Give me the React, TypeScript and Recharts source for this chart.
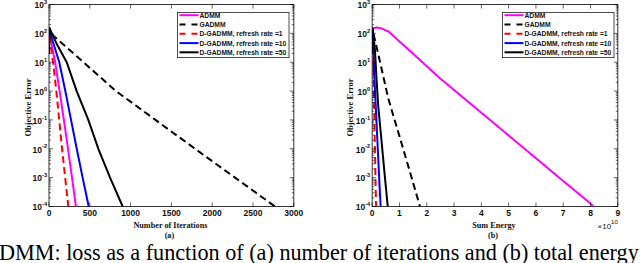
import React from 'react';
import { LineChart, Line, XAxis, YAxis, Legend, ReferenceArea } from 'recharts';

// ---------- tick labels ----------
const iterTicks = [0, 500, 1000, 1500, 2000, 2500, 3000];
const energyTicks = [0, 1, 2, 3, 4, 5, 6, 7, 8, 9];
const decadeExps = [-4, -3, -2, -1, 0, 1, 2, 3];
const minorMultipliers = [2, 3, 4, 5, 6, 7, 8, 9];

// ---------- series ----------
const seriesNames = [
  'ADMM',
  'GADMM',
  'D-GADMM, refresh rate =1',
  'D-GADMM, refresh rate =10',
  'D-GADMM, refresh rate =50',
];

// (a) objective error vs number of iterations
const admmIter = [0, 1, 20, 75, 130, 182, 233, 282, 330];
const admmIterErr = [20, 150, 60, 10, 1, 0.1, 0.01, 0.001, 0.0001];
const gadmmIter = [0, 1, 50, 200, 450, 820, 1305, 1790, 2280, 2770];
const gadmmIterErr = [20, 160, 85, 36, 8.5, 1, 0.1, 0.01, 0.001, 0.0001];
const rr1Iter = [0, 1, 15, 50, 90, 125, 160, 198, 237];
const rr1IterErr = [20, 150, 50, 10, 1, 0.1, 0.01, 0.001, 0.0001];
const rr10Iter = [0, 1, 40, 126, 200, 270, 340, 412, 487];
const rr10IterErr = [20, 160, 60, 10, 1, 0.1, 0.01, 0.001, 0.0001];
const rr50Iter = [0, 1, 100, 217, 339, 482, 605, 748, 903];
const rr50IterErr = [20, 160, 40, 10, 1, 0.1, 0.01, 0.001, 0.0001];

// (b) objective error vs sum energy (x 10^10)
const admmEnergy = [0.066, 0.15, 0.3, 0.6, 1.0, 1.5, 2.0, 2.48, 3, 4, 5, 6, 7, 8, 8.1];
const admmEnergyErr = [150, 160, 155, 115, 52, 19.6, 7.3, 2.8, 1.09, 0.177, 0.029, 0.0047, 0.00077, 0.000126, 0.0001];
const gadmmEnergy = [0, 0.005, 0.03, 0.13, 0.29, 0.59, 1.0, 1.4, 1.75];
const gadmmEnergyErr = [20, 160, 110, 45, 10, 0.55, 0.027, 0.0014, 0.0001];
const rr1Energy = [0, 0.005, 0.03, 0.05, 0.07, 0.09, 0.11, 0.13, 0.145];
const rr1EnergyErr = [20, 150, 30, 3, 0.3, 0.03, 0.003, 0.0003, 0.0001];
const rr10Energy = [0, 0.005, 0.04, 0.08, 0.13, 0.18, 0.22, 0.27, 0.31];
const rr10EnergyErr = [20, 160, 35, 3, 0.3, 0.03, 0.005, 0.0005, 0.0001];
const rr50Energy = [0, 0.005, 0.05, 0.1, 0.16, 0.22, 0.33, 0.45, 0.57];
const rr50EnergyErr = [20, 160, 80, 27, 2.5, 0.31, 0.025, 0.0015, 0.0001];

// ---------- styles ----------
const colors = ['#ff00ff', '#000000', '#ff0000', '#0000ff', '#000000'];
const dashes = [undefined, '7 4', '7 4', undefined, undefined];
const legendDashes = [undefined, '6 6', '6 6', undefined, undefined];

const SANS = '"Liberation Sans", Arial, Helvetica, sans-serif';
const SERIF = '"Liberation Serif", "Times New Roman", serif';

const yTicks: number[] = [];
decadeExps.forEach((e) => {
  yTicks.push(Math.pow(10, e));
  if (e < 3) minorMultipliers.forEach((m) => yTicks.push(m * Math.pow(10, e)));
});

const toPts = (xs: number[], ys: number[]) => xs.map((x, i) => ({ x, y: ys[i] }));

type Geom = { L: number; R: number; T: number; B: number };

const YTick = (props: any) => {
  const { y, payload, g } = props;
  const v = payload.value as number;
  const e = Math.log10(v);
  const major = Math.abs(e - Math.round(e)) < 1e-6;
  const len = major ? 4 : 2;
  return (
    <g>
      <line x1={g.L} x2={g.L + len} y1={y} y2={y} stroke="#000" strokeWidth={0.6} />
      <line x1={g.R - len} x2={g.R} y1={y} y2={y} stroke="#000" strokeWidth={0.6} />
      {major && (
        <text x={g.L - 2} y={y + 3.8} textAnchor="end" fontFamily={SANS} fontSize={8.5} fontWeight="bold" fill="#111">
          <tspan>10</tspan>
          <tspan dy={-4.2} fontSize={5.6}>{String(Math.round(e))}</tspan>
        </text>
      )}
    </g>
  );
};

const XTick = (props: any) => {
  const { x, payload, g } = props;
  return (
    <g>
      <line x1={x} x2={x} y1={g.B} y2={g.B - 4} stroke="#000" strokeWidth={0.6} />
      <line x1={x} x2={x} y1={g.T} y2={g.T + 4} stroke="#000" strokeWidth={0.6} />
      <text x={x} y={g.B + 9.5} textAnchor="middle" fontFamily={SANS} fontSize={8.5} fontWeight="bold" fill="#111">
        {String(payload.value)}
      </text>
    </g>
  );
};

const LegendBox = ({ w }: { w: number }) => {
  const rows = [3.2, 12.5, 21.8, 31.1, 40.3];
  return (
    <svg width={w} height={46} style={{ display: 'block', overflow: 'visible' }}>
      <rect x={0.4} y={0.4} width={w - 0.8} height={45.2} fill="#fff" stroke="#222" strokeWidth={0.8} />
      {seriesNames.map((n, i) => (
        <g key={n}>
          <line x1={2.5} x2={21.5} y1={rows[i]} y2={rows[i]} stroke={colors[i]} strokeWidth={2} strokeDasharray={legendDashes[i]} />
          <text x={22.5} y={rows[i] + 2.4} fontFamily={SANS} fontSize={6.7} fontWeight="bold" fill="#111">
            {n}
          </text>
        </g>
      ))}
    </svg>
  );
};

type PanelProps = {
  g: Geom;
  xDomain: [number, number];
  xTicks: number[];
  series: { x: number; y: number }[][];
  xTitle: string;
  sub: string;
  yTitleX: number;
  legendLeft: number;
  multiplier?: boolean;
};

const Panel = ({ g, xDomain, xTicks, series, xTitle, sub, yTitleX, legendLeft, multiplier }: PanelProps) => {
  const W = 320;
  const H = 263;
  const cx = (g.L + g.R) / 2 - 1;
  return (
    <LineChart
      width={W}
      height={H}
      margin={{ top: g.T, right: W - g.R, bottom: H - g.B - 20, left: 0 }}
    >
      <XAxis
        type="number"
        dataKey="x"
        domain={xDomain}
        ticks={xTicks}
        interval={0}
        allowDataOverflow
        axisLine={false}
        tickLine={false}
        height={20}
        tick={(p: any) => <XTick {...p} g={g} />}
        label={{
          content: () => (
            <g>
              <text x={cx} y={228} textAnchor="middle" fontFamily={SERIF} fontSize={8.2} fontWeight="bold" fill="#111">
                {xTitle}
              </text>
              <text x={cx - 1} y={237.5} textAnchor="middle" fontFamily={SERIF} fontSize={8.2} fontWeight="bold" fill="#111">
                {sub}
              </text>
              {multiplier && (
                <text x={g.R} y={229} textAnchor="end" fontFamily={SANS} fontSize={8} fill="#111">
                  <tspan>×10</tspan>
                  <tspan dy={-5} fontSize={6}>10</tspan>
                </text>
              )}
            </g>
          ),
        }}
      />
      <YAxis
        type="number"
        scale="log"
        domain={[0.0001, 1000]}
        ticks={yTicks}
        interval={0}
        allowDataOverflow
        axisLine={false}
        tickLine={false}
        width={g.L}
        tick={(p: any) => <YTick {...p} g={g} />}
        label={{
          content: () => (
            <text
              x={yTitleX}
              y={(g.T + g.B) / 2 + 2}
              transform={`rotate(-90 ${yTitleX} ${(g.T + g.B) / 2 + 2})`}
              textAnchor="middle"
              fontFamily={SERIF}
              fontSize={8.5}
              fontWeight="bold"
              fill="#111"
            >
              Objective Error
            </text>
          ),
        }}
      />
      <ReferenceArea x1={xDomain[0]} x2={xDomain[1]} y1={0.0001} y2={1000} fill="none" stroke="#000" strokeWidth={0.8} />
      {series.map((d, i) => (
        <Line
          key={seriesNames[i]}
          data={d}
          dataKey="y"
          name={seriesNames[i]}
          stroke={colors[i]}
          strokeWidth={2}
          strokeDasharray={dashes[i]}
          dot={false}
          activeDot={false}
          isAnimationActive={false}
        />
      ))}
      <Legend
        layout="vertical"
        align="center"
        verticalAlign="middle"
        content={() => <LegendBox w={112.4} />}
        wrapperStyle={{ position: 'absolute', left: legendLeft, top: 12.3, width: 113, height: 46 }}
      />
    </LineChart>
  );
};

export default function App() {
  const leftSeries = [
    toPts(admmIter, admmIterErr),
    toPts(gadmmIter, gadmmIterErr),
    toPts(rr1Iter, rr1IterErr),
    toPts(rr10Iter, rr10IterErr),
    toPts(rr50Iter, rr50IterErr),
  ];
  const rightSeries = [
    toPts(admmEnergy, admmEnergyErr),
    toPts(gadmmEnergy, gadmmEnergyErr),
    toPts(rr1Energy, rr1EnergyErr),
    toPts(rr10Energy, rr10EnergyErr),
    toPts(rr50Energy, rr50EnergyErr),
  ];
  return (
    <div style={{ position: 'absolute', left: 0, top: 0, width: 640, height: 263, background: '#fff', overflow: 'hidden' }}>
      <div style={{ position: 'absolute', left: 0, top: 0 }}>
        <Panel
          g={{ L: 49, R: 293.8, T: 4.5, B: 206.5 }}
          xDomain={[0, 3000]}
          xTicks={iterTicks}
          series={leftSeries}
          xTitle="Number of Iterations"
          sub="(a)"
          yTitleX={31}
          legendLeft={176.7}
        />
      </div>
      <div style={{ position: 'absolute', left: 320, top: 0 }}>
        <Panel
          g={{ L: 52.2, R: 297.8, T: 4.5, B: 206.5 }}
          xDomain={[0, 9]}
          xTicks={energyTicks}
          series={rightSeries}
          xTitle="Sum Energy"
          sub="(b)"
          yTitleX={33}
          legendLeft={181.7}
          multiplier
        />
      </div>
      <svg width={640} height={263} style={{ position: 'absolute', left: 0, top: 0, pointerEvents: 'none' }}>
        <text x={-1} y={260} fontFamily={SERIF} fontSize={22.2} fill="#000">
          DMM: loss as a function of (a) number of iterations and (b) total energy
        </text>
      </svg>
    </div>
  );
}
